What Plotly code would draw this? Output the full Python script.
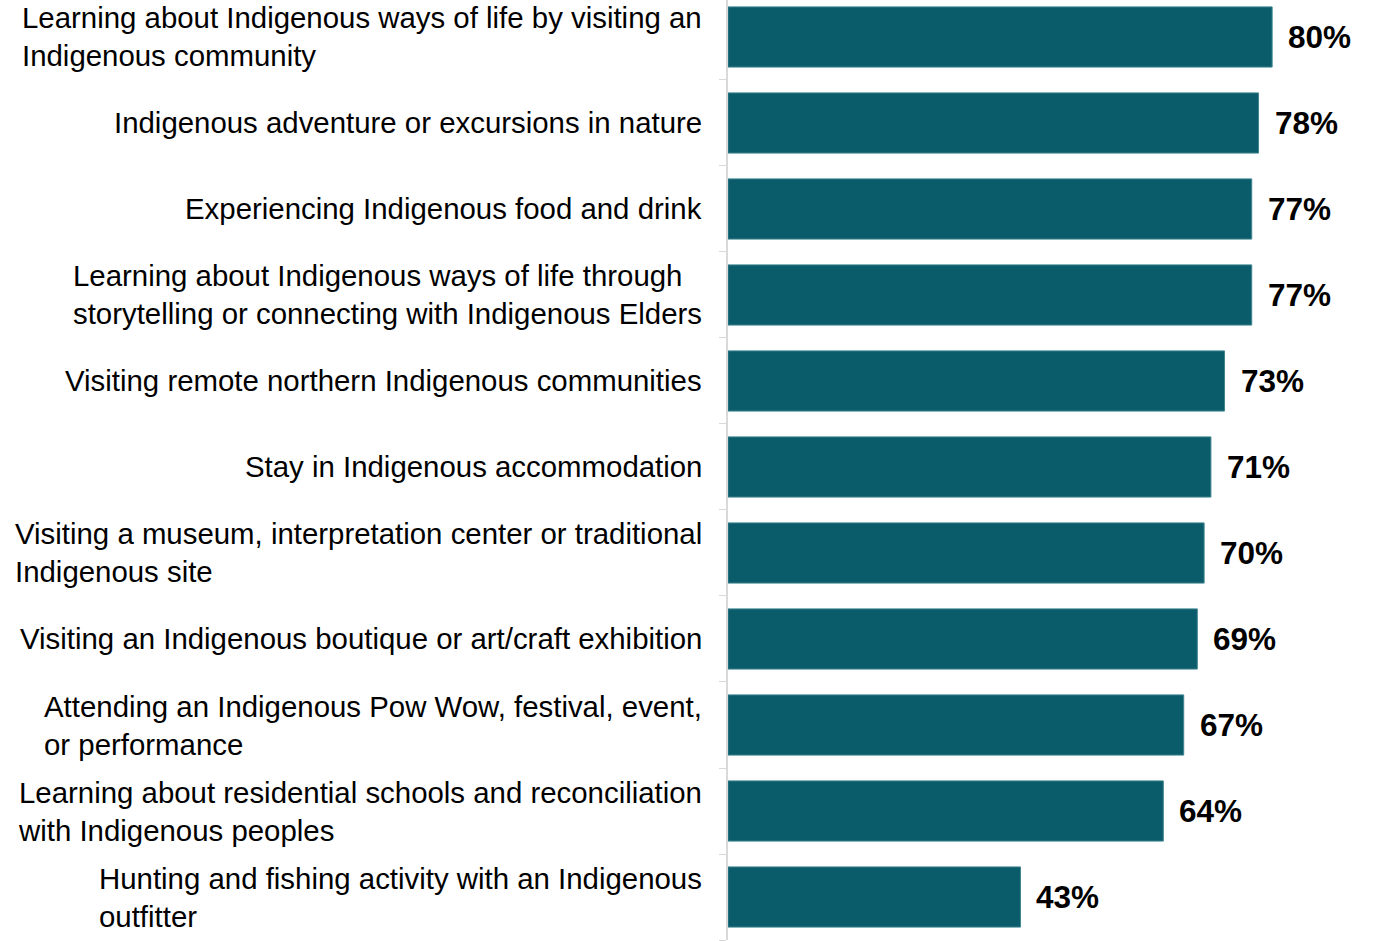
import plotly.graph_objects as go

activities = [
    "Learning about Indigenous ways of life by visiting an<br>Indigenous community",
    "Indigenous adventure or excursions in nature",
    "Experiencing Indigenous food and drink",
    "Learning about Indigenous ways of life through<br>storytelling or connecting with Indigenous Elders",
    "Visiting remote northern Indigenous communities",
    "Stay in Indigenous accommodation",
    "Visiting a museum, interpretation center or traditional<br>Indigenous site",
    "Visiting an Indigenous boutique or art/craft exhibition",
    "Attending an Indigenous Pow Wow, festival, event,<br>or performance",
    "Learning about residential schools and reconciliation<br>with Indigenous peoples",
    "Hunting and fishing activity with an Indigenous<br>outfitter",
]
interest_pct = [80, 78, 77, 77, 73, 71, 70, 69, 67, 64, 43]

BAR_COLOR = "#0B5C6A"
FONT = "Liberation Sans, Arial, sans-serif"

idx = list(range(len(activities)))

fig = go.Figure(
    go.Bar(
        x=interest_pct,
        y=idx,
        orientation="h",
        width=0.70,
        marker=dict(color=BAR_COLOR, line=dict(color="#3F8590", width=1)),
        hoverinfo="skip",
    )
)

annotations = []
for i, (label, v) in enumerate(zip(activities, interest_pct)):
    # value labels just past the bar end
    annotations.append(dict(
        x=v, y=i, xref="x", yref="y", text=f"<b>{v}%</b>",
        showarrow=False, xanchor="left", yanchor="middle", xshift=14,
        font=dict(family=FONT, size=31.5, color="#000000"),
    ))
    # category labels: block right-aligned to the axis, lines left-aligned
    annotations.append(dict(
        x=0, y=i, xref="paper", yref="y", text=label,
        showarrow=False, xanchor="right", yanchor="middle", align="left",
        xshift=-24,
        font=dict(family=FONT, size=29.4, color="#000000"),
    ))

fig.update_layout(
    width=1383, height=941,
    margin=dict(l=728, r=0, t=0, b=1),
    paper_bgcolor="white", plot_bgcolor="white",
    showlegend=False,
    annotations=annotations,
    xaxis=dict(range=[0, 96.3], showgrid=False, zeroline=False,
               showticklabels=False, showline=False, ticks=""),
    yaxis=dict(
        type="category",
        tickmode="array", tickvals=idx, ticktext=[""] * len(idx),
        range=[10.5, -0.43],
        tickson="boundaries",
        ticks="outside", ticklen=7, tickcolor="#D9D9D9", tickwidth=1,
        showline=True, linecolor="#D9D9D9", linewidth=2,
        showgrid=False, zeroline=False,
    ),
)

fig.write_html("out.html")
